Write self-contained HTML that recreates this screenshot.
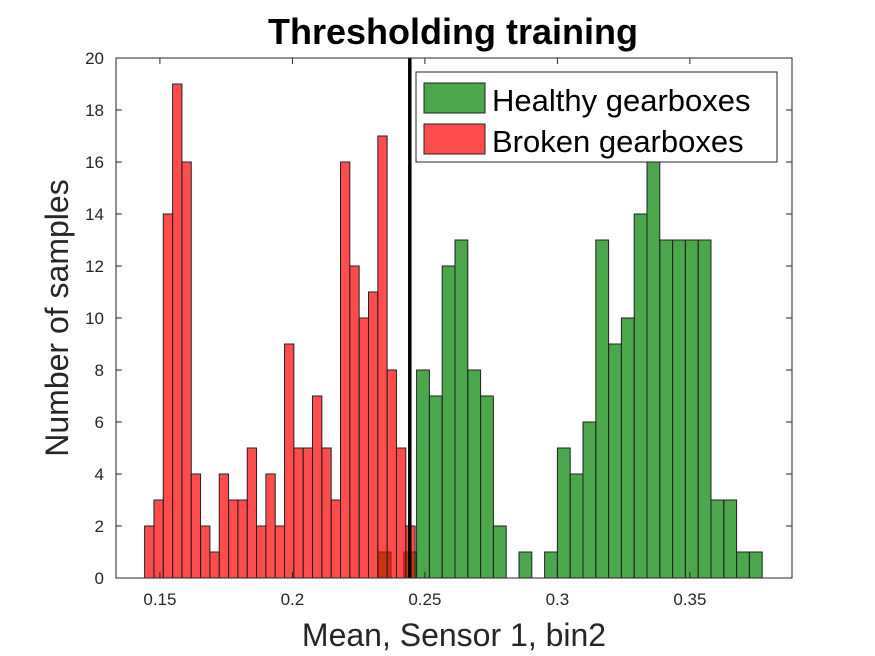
<!DOCTYPE html>
<html><head><meta charset="utf-8"><style>
body{margin:0;background:#fff;}
svg{display:block;font-family:"Liberation Sans",Arial,sans-serif;}
</style></head><body>
<svg id="chart" width="875" height="656" viewBox="0 0 875 656">
<rect width="875" height="656" fill="#fff"/>
<g id="bars"></g>
<g id="axes"></g>
</svg>
<script>
const redStart = 0.14423;
const redWidth = 0.00352;
const redCounts = [2,3,14,19,16,4,2,1,4,3,3,5,2,4,2,9,5,5,7,5,3,16,12,10,11,17,8,5,2];
const greenStart = 0.23238;
const greenWidth = 0.00483;
const greenCounts = [1,0,1,8,7,12,13,8,7,2,0,1,0,1,5,4,6,13,9,10,14,16,13,13,13,13,3,3,1,1];
const threshold = 0.2443;
const xTicks = [0.15,0.2,0.25,0.3,0.35];
const xTickLabels = ["0.15","0.2","0.25","0.3","0.35"];
const yTicks = [0,2,4,6,8,10,12,14,16,18,20];

const L=116,R=792,T=58,B=578;
const xMin=0.13343,xMax=0.38853,yMax=20;
const X=v=>L+(v-xMin)/(xMax-xMin)*(R-L);
const Y=v=>B-v/yMax*(B-T);
const NS="http://www.w3.org/2000/svg";
function mk(tag,attrs,parent){const e=document.createElementNS(NS,tag);for(const k in attrs)e.setAttribute(k,attrs[k]);parent.appendChild(e);return e;}
const bars=document.getElementById('bars'), axes=document.getElementById('axes');

greenCounts.forEach((c,i)=>{ if(c<=0) return;
  const x0=X(greenStart+i*greenWidth), x1=X(greenStart+(i+1)*greenWidth);
  const r=mk('rect',{x:x0,y:Y(c),width:x1-x0,height:Y(0)-Y(c),fill:'#008000','fill-opacity':0.7,stroke:'#222','stroke-width':1},bars);
  
  
});
redCounts.forEach((c,i)=>{ if(c<=0) return;
  const x0=X(redStart+i*redWidth), x1=X(redStart+(i+1)*redWidth);
  const r=mk('rect',{x:x0,y:Y(c),width:x1-x0,height:Y(0)-Y(c),fill:'#ff0000','fill-opacity':0.7,stroke:'#222','stroke-width':1},bars);
  
  
});
const tl=mk('line',{x1:X(threshold),x2:X(threshold),y1:T,y2:B,stroke:'#000','stroke-width':3.5},bars);



const box=mk('rect',{x:L,y:T,width:R-L,height:B-T,fill:'none',stroke:'#262626','stroke-width':1},axes);


xTicks.forEach((v,i)=>{
  mk('line',{x1:X(v),x2:X(v),y1:B,y2:B-6,stroke:'#262626'},axes);
  mk('line',{x1:X(v),x2:X(v),y1:T,y2:T+6,stroke:'#262626'},axes);
  const t=mk('text',{x:X(v),y:B+27,'text-anchor':'middle','font-size':17,fill:'#262626'},axes);
  t.textContent=xTickLabels[i];
  
  
});
yTicks.forEach(v=>{
  mk('line',{x1:L,x2:L+6,y1:Y(v),y2:Y(v),stroke:'#262626'},axes);
  mk('line',{x1:R,x2:R-6,y1:Y(v),y2:Y(v),stroke:'#262626'},axes);
  const t=mk('text',{x:L-12,y:Y(v)+6,'text-anchor':'end','font-size':17,fill:'#262626'},axes);
  t.textContent=String(v);
  
  
});
</script>
<svg style="position:absolute;left:0;top:0" width="875" height="656">
<text x="453" y="44" text-anchor="middle" font-size="36" font-weight="bold" fill="#000">Thresholding training</text>
<text x="454" y="646" text-anchor="middle" font-size="32" fill="#262626">Mean, Sensor 1, bin2</text>
<text transform="translate(68,318) rotate(-90)" text-anchor="middle" font-size="32" fill="#262626">Number of samples</text>
<g>
<rect x="416" y="72" width="361" height="90" fill="#fff" stroke="#262626" stroke-width="1"/>
<rect x="424" y="83" width="61" height="30" fill="#008000" fill-opacity="0.7" stroke="#222"/>
<text x="492" y="111" font-size="31" fill="#000">Healthy gearboxes</text>
<rect x="424" y="124" width="61" height="30" fill="#ff0000" fill-opacity="0.7" stroke="#222"/>
<text x="492" y="152" font-size="31" fill="#000">Broken gearboxes</text>
</g>
</svg>
</body></html>
